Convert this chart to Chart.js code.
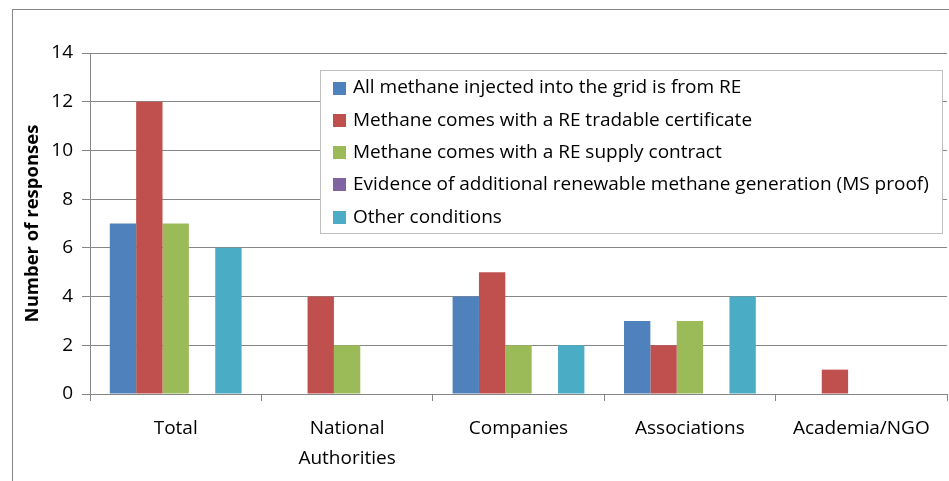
<!DOCTYPE html>
<html>
<head>
<meta charset="utf-8">
<script src="https://cdn.jsdelivr.net/npm/chart.js@4.4.1/dist/chart.umd.min.js"></script>
<style>
  html, body { margin: 0; padding: 0; background: #fff; }
  #c { display: block; }
</style>
</head>
<body>
<canvas id="c" width="949" height="481"></canvas>
<script>
const categories = ["Total", ["National", "Authorities"], "Companies", "Associations", "Academia/NGO"];
const seriesNames = [
  "All methane injected into the grid is from RE",
  "Methane comes with a RE tradable certificate",
  "Methane comes with a RE supply contract",
  "Evidence of additional renewable methane generation (MS proof)",
  "Other conditions"
];
const allFromRE = [7, 0, 4, 3, 0];
const tradableCertificate = [12, 4, 5, 2, 1];
const supplyContract = [7, 2, 2, 3, 0];
const additionalGeneration = [0, 0, 0, 0, 0];
const otherConditions = [6, 0, 2, 4, 0];
const yTicks = [0, 2, 4, 6, 8, 10, 12, 14];

const colors = ["#4F81BD", "#C0504D", "#9BBB59", "#8064A2", "#4BACC6"];
const seriesValues = [allFromRE, tradableCertificate, supplyContract, additionalGeneration, otherConditions];
const FONT = "'Open Sans', Lato, 'Liberation Sans', sans-serif";
const GRID = "#868686";

const frame = {
  id: "frame",
  beforeDraw(chart) {
    const ctx = chart.ctx;
    ctx.save();
    ctx.fillStyle = "#fff";
    ctx.fillRect(0, 0, chart.width, chart.height);
    ctx.strokeStyle = "#868686";
    ctx.lineWidth = 1;
    ctx.strokeRect(12.5, 9.5, chart.width + 20, chart.height + 20);
    ctx.restore();
  }
};

const boxLegend = {
  id: "boxLegend",
  afterDraw(chart) {
    const ctx = chart.ctx;
    const x = 320.5, y = 70.5, w = 622, h = 163;
    ctx.save();
    ctx.fillStyle = "#fff";
    ctx.fillRect(x, y, w, h);
    ctx.strokeStyle = "#BFBFBF";
    ctx.lineWidth = 1;
    ctx.strokeRect(x, y, w, h);
    ctx.font = "19px " + FONT;
    ctx.textBaseline = "middle";
    ctx.textAlign = "left";
    chart.data.datasets.forEach((ds, i) => {
      const cy = 88 + i * 32.3;
      ctx.fillStyle = ds.backgroundColor;
      ctx.fillRect(333, Math.round(cy - 6.5), 13, 13);
      ctx.fillStyle = "#000";
      ctx.fillText(ds.label, 353, cy);
    });
    ctx.restore();
  }
};

new Chart(document.getElementById("c"), {
  type: "bar",
  data: {
    labels: categories,
    datasets: seriesNames.map((name, i) => ({
      label: name,
      data: seriesValues[i],
      backgroundColor: colors[i],
      borderWidth: 0,
      categoryPercentage: 0.769,
      barPercentage: 1.0
    }))
  },
  options: {
    responsive: false,
    animation: false,
    layout: { padding: { left: 12, right: 2, top: 53, bottom: 0 } },
    plugins: { legend: { display: false }, tooltip: { enabled: false } },
    scales: {
      x: {
        afterFit(scale) { scale.height = 87; },
        grid: { offset: true, drawOnChartArea: false, color: GRID, tickLength: 7 },
        border: { color: GRID },
        ticks: { color: "#000", font: { family: FONT, size: 19, lineHeight: 1.58 }, padding: 13, maxRotation: 0, autoSkip: false }
      },
      y: {
        min: 0, max: 14,
        afterFit(scale) { scale.width = 78; },
        afterBuildTicks(scale) { scale.ticks = yTicks.map(v => ({ value: v })); },
        grid: { color: GRID, tickLength: 8 },
        border: { color: GRID },
        ticks: { color: "#000", font: { family: FONT, size: 19 }, padding: 9 },
        title: {
          display: true, text: "Number of responses", color: "#000",
          font: { family: FONT, size: 18.5, weight: "bold" },
          padding: { top: 10, bottom: 0 }
        }
      }
    }
  },
  plugins: [frame, boxLegend]
});
</script>
</body>
</html>
